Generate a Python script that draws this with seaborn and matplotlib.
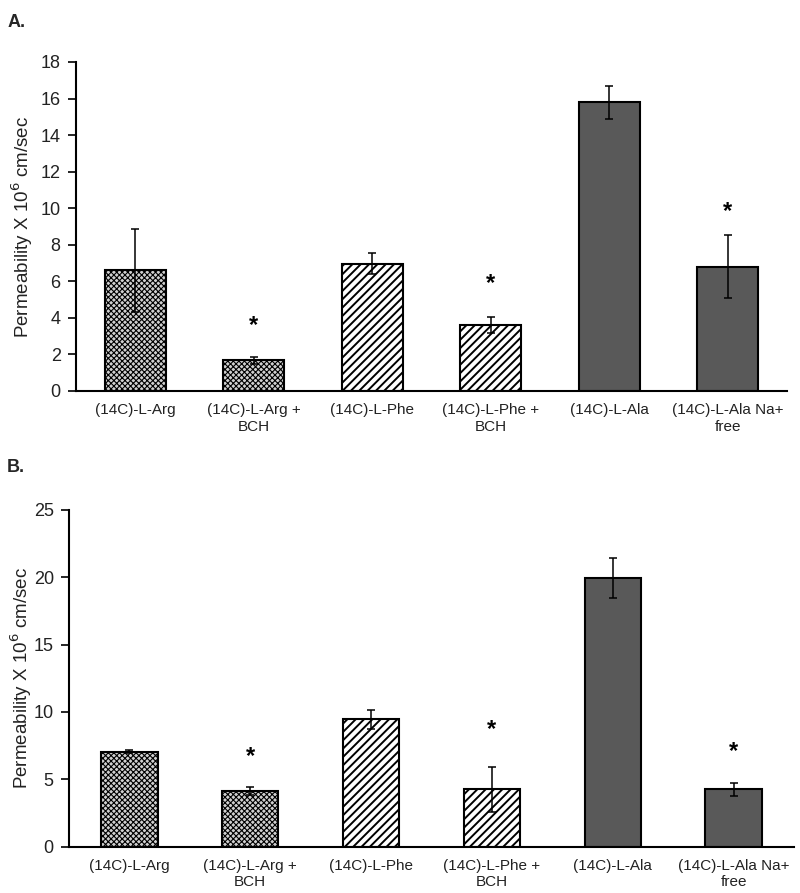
import numpy as np
import pandas as pd
import seaborn as sns
import matplotlib.pyplot as plt

# %% Data
categories = ["(14C)-L-Arg", "(14C)-L-Arg +\nBCH", "(14C)-L-Phe",
              "(14C)-L-Phe +\nBCH", "(14C)-L-Ala", "(14C)-L-Ala Na+\nfree"]

perm_a = [6.6, 1.68, 6.96, 3.61, 15.79, 6.8]
err_a = [2.28, 0.18, 0.57, 0.42, 0.91, 1.72]
star_a = [None, 3.6, None, 5.9, None, 9.8]

perm_b = [7.05, 4.13, 9.46, 4.26, 19.95, 4.26]
err_b = [0.12, 0.32, 0.69, 1.68, 1.45, 0.5]
star_b = [None, 6.7, None, 8.67, None, 7.05]

# %% Styling
sns.set_style("white")
plt.rcParams['font.family'] = ['Liberation Sans', 'DejaVu Sans']
plt.rcParams['hatch.linewidth'] = 1.3

face_cols = ['#d0d0d0', '#d0d0d0', 'white', 'white', '#595959', '#595959']
hatches = ['xxxxxx', 'xxxxxx', '////', '////', None, None]
hatch_lw = [0.8, 0.8, 1.4, 1.4, 1.0, 1.0]

fig = plt.figure(figsize=(8, 8.93), dpi=100, facecolor='white')
ax_a = fig.add_axes([0.095, 0.5622, 0.889, 0.3684])
ax_b = fig.add_axes([0.0863, 0.0519, 0.9062, 0.377])


def draw_panel(ax, vals, errs, stars, ymax, ystep, width, label_x):
    df = pd.DataFrame({'cond': categories, 'perm': vals})
    sns.barplot(data=df, x='cond', y='perm', ax=ax, width=width,
                color='white', edgecolor='black', linewidth=1.5, errorbar=None)
    for patch, fc, h, hl in zip(ax.patches, face_cols, hatches, hatch_lw):
        patch.set_facecolor(fc)
        if h:
            patch.set_hatch(h)
            try:
                patch.set_hatch_linewidth(hl)
            except AttributeError:
                pass
    ax.errorbar(np.arange(len(vals)), vals, yerr=errs, fmt='none',
                ecolor='black', elinewidth=1.1, capsize=2.6, capthick=1.1, zorder=5)
    for i, s in enumerate(stars):
        if s is not None:
            ax.text(i, s, '*', ha='center', va='center', fontsize=17,
                    fontweight='bold', color='black')
    ax.set_xlim(-0.5, len(vals) - 0.5)
    ax.set_ylim(0, ymax)
    ax.set_yticks(np.arange(0, ymax + 0.1, ystep))
    ax.set_xlabel('')
    ax.set_ylabel(r'Permeability X 10$^{6}$ cm/sec', fontsize=13.5, color='#222222')
    ax.yaxis.set_label_coords(label_x, 0.5)
    ax.tick_params(axis='y', length=6, width=1.2, direction='out', pad=5,
                   labelsize=13, left=True, colors='black', labelcolor='#222222')
    ax.tick_params(axis='x', length=0, pad=9, labelsize=11, labelcolor='#222222')
    sns.despine(ax=ax)
    for sp in ['left', 'bottom']:
        ax.spines[sp].set_color('black')
        ax.spines[sp].set_linewidth(1.5)


draw_panel(ax_a, perm_a, err_a, star_a, 18, 2, 0.515, -0.058)
draw_panel(ax_b, perm_b, err_b, star_b, 25, 5, 0.465, -0.049)

fig.text(0.009, 0.9845, 'A.', fontsize=13, fontweight='bold', va='top')
fig.text(0.009, 0.4865, 'B.', fontsize=13, fontweight='bold', va='top')

plt.savefig('out.png', dpi=100, facecolor='white')
